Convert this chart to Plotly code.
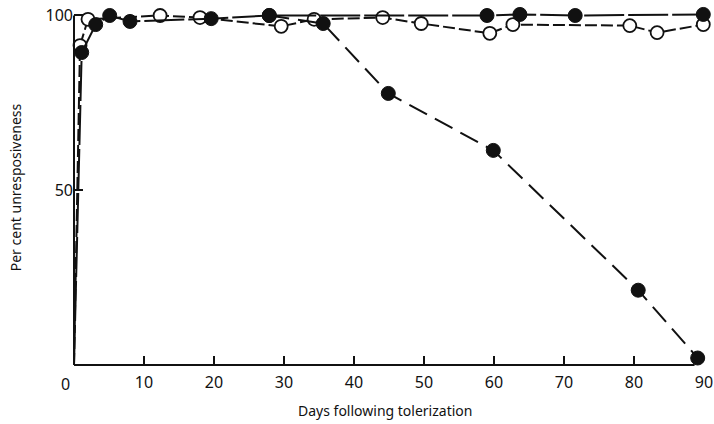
import plotly.graph_objects as go

# Filled circles: stays unresponsive (~100%)
days_a = [0, 1.1, 3.1, 5.1, 8.0, 19.6, 27.9, 59.0, 63.7, 71.6, 89.9]
vals_a = [0, 89.4, 97.4, 100, 98.3, 99.1, 100, 100, 100.3, 100, 100.3]

# Filled circles: declining unresponsiveness
days_b = [27.9, 35.6, 44.9, 59.9, 80.6, 89.1]
vals_b = [100, 97.7, 77.7, 61.4, 21.4, 2.0]

# Open circles
days_o = [0, 0.86, 2.0, 12.3, 18.0, 29.6, 34.3, 44.1, 49.6, 59.4, 62.7, 79.4, 83.3, 89.9]
vals_o = [0, 91.4, 98.9, 100, 99.4, 96.9, 98.9, 99.4, 97.7, 94.9, 97.4, 97.1, 95.1, 97.4]

x_tickvals = [0, 10, 20, 30, 40, 50, 60, 70, 80, 90]
x_ticktext = ["", "10", "20", "30", "40", "50", "60", "70", "80", "90"]
y_tickvals = [50, 100]
y_ticktext = ["50", "100"]

x_title = "Days following tolerization"
y_title = "Per cent unresposiveness"

INK = "#111111"
FONT = "Noto Sans"
Y_MAX = 103

fig = go.Figure()

fig.add_trace(go.Scatter(
    x=days_o, y=vals_o, mode="lines+markers",
    line=dict(color=INK, width=2, dash="12px,4px"),
    marker=dict(symbol="circle", size=[0] + [13] * (len(days_o) - 1), opacity=1,
                color="white", line=dict(color=INK, width=1.8)),
    cliponaxis=False, showlegend=False, hoverinfo="skip"))

fig.add_trace(go.Scatter(
    x=days_b, y=vals_b, mode="lines+markers",
    line=dict(color=INK, width=2, dash="20px,9px"),
    marker=dict(symbol="circle", size=14, opacity=1, color=INK, line=dict(color=INK, width=1)),
    cliponaxis=False, showlegend=False, hoverinfo="skip"))

fig.add_trace(go.Scatter(
    x=days_a, y=vals_a, mode="lines+markers",
    line=dict(color=INK, width=2, dash="40px,4px"),
    marker=dict(symbol="circle", size=[0] + [14] * (len(days_a) - 1), opacity=1,
                color=INK, line=dict(color=INK, width=1)),
    cliponaxis=False, showlegend=False, hoverinfo="skip"))

fig.update_layout(
    width=714, height=424,
    margin=dict(l=74, r=10, t=5, b=59, autoexpand=False),
    paper_bgcolor="white", plot_bgcolor="white",
    font=dict(family=FONT, color=INK),
    xaxis=dict(range=[0, 90], showgrid=False, zeroline=False, showline=False,
               automargin=False,
               ticks="inside", ticklen=9, tickwidth=1.5, tickcolor=INK,
               tickvals=x_tickvals, ticktext=x_ticktext, ticklabelstandoff=6,
               tickfont=dict(size=16, family=FONT, color=INK)),
    yaxis=dict(range=[0, Y_MAX], showgrid=False, zeroline=False, showline=False,
               automargin=False,
               ticks="inside", ticklen=9, tickwidth=1.5, tickcolor=INK,
               tickvals=y_tickvals, ticktext=y_ticktext,
               tickfont=dict(size=16, family=FONT, color=INK)),
    shapes=[
        dict(type="line", xref="paper", yref="paper", x0=0, x1=0, y0=0, y1=100 / Y_MAX,
             line=dict(color=INK, width=2)),
        dict(type="line", xref="paper", yref="paper", x0=0, x1=0.985, y0=0, y1=0,
             line=dict(color=INK, width=2)),
    ],
)

fig.add_annotation(x=0, y=0, xref="x", yref="y", text="0", showarrow=False,
                   xshift=-9, yshift=-19, font=dict(size=16, family=FONT, color=INK))
fig.add_annotation(x=0.5, y=0, xref="paper", yref="paper", text=x_title, showarrow=False,
                   xanchor="center", yanchor="middle",
                   yshift=-45, xshift=-4, font=dict(size=14, family=FONT, color=INK))
fig.add_annotation(x=0, y=0.5 * 100 / Y_MAX, xref="paper", yref="paper", text=y_title,
                   showarrow=False, textangle=-90, xanchor="center", yanchor="middle",
                   xshift=-59, yshift=3,
                   font=dict(size=14, family=FONT, color=INK))

fig.write_html("out.html", config={"displayModeBar": False},
               post_script="document.body.style.margin='0';document.body.style.padding='0';")
